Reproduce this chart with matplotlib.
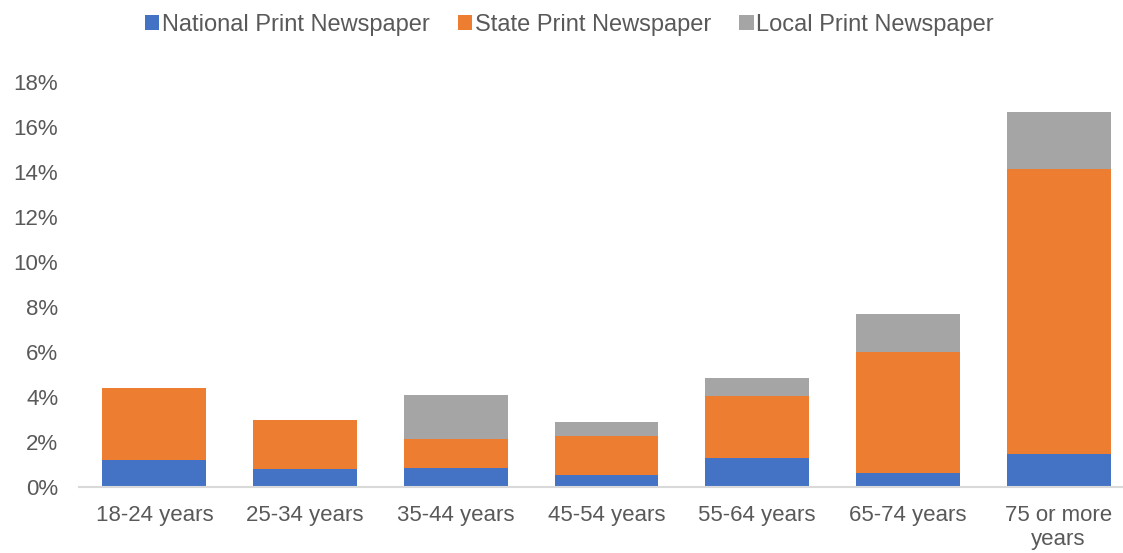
import matplotlib.pyplot as plt
import numpy as np
from matplotlib.ticker import FuncFormatter

# Tranches d'âge
categories = ["18-24 years", "25-34 years", "35-44 years", "45-54 years",
              "55-64 years", "65-74 years", "75 or more\nyears"]

# Parts (%) par type de journal imprimé
national = [1.18, 0.82, 0.84, 0.52, 1.31, 0.64, 1.48]
state = [3.20, 2.18, 1.29, 1.73, 2.72, 5.36, 12.64]
local = [0.00, 0.00, 1.96, 0.66, 0.83, 1.71, 2.55]

series_names = ["National Print Newspaper", "State Print Newspaper", "Local Print Newspaper"]
colors = ["#4472C4", "#ED7D31", "#A5A5A5"]

plt.rcParams['font.family'] = ['Liberation Sans', 'DejaVu Sans']

fig = plt.figure(figsize=(11.23, 5.53), dpi=100)
ax = fig.add_axes([79 / 1123, 66 / 553, 1055 / 1123, 405 / 553])

x = np.arange(len(categories))
width = 0.69
bottom = np.zeros(len(categories))
for vals, name, col in zip([national, state, local], series_names, colors):
    vals = np.array(vals)
    ax.bar(x, vals, width, bottom=bottom, color=col, label=name)
    bottom += vals

ax.set_xlim(-0.5, len(categories) - 0.5)
ax.set_ylim(0, 18)
ax.set_yticks(np.arange(0, 19, 2))
ax.yaxis.set_major_formatter(FuncFormatter(lambda v, p: f"{v:.0f}%"))
ax.set_xticks(x)
ax.set_xticklabels(categories, linespacing=1.2)

for s in ["top", "right", "left"]:
    ax.spines[s].set_visible(False)
ax.spines["bottom"].set_color("#D9D9D9")
ax.spines["bottom"].set_linewidth(1.5)

ax.tick_params(axis="x", length=0, pad=13, labelsize=16, labelcolor="#595959")
ax.tick_params(axis="y", length=0, pad=15, labelsize=16, labelcolor="#595959")
for lbl in ax.get_yticklabels():
    lbl.set_y(lbl.get_position()[1])
    lbl.set_verticalalignment("center_baseline")

fig.legend(loc="center", bbox_to_anchor=(0.507, 0.955), ncol=3, frameon=False,
           fontsize=17, labelcolor="#595959", handlelength=0.6, handleheight=0.6,
           handletextpad=0.12, columnspacing=1.2, borderpad=0)

fig.savefig("out.png", dpi=100)
